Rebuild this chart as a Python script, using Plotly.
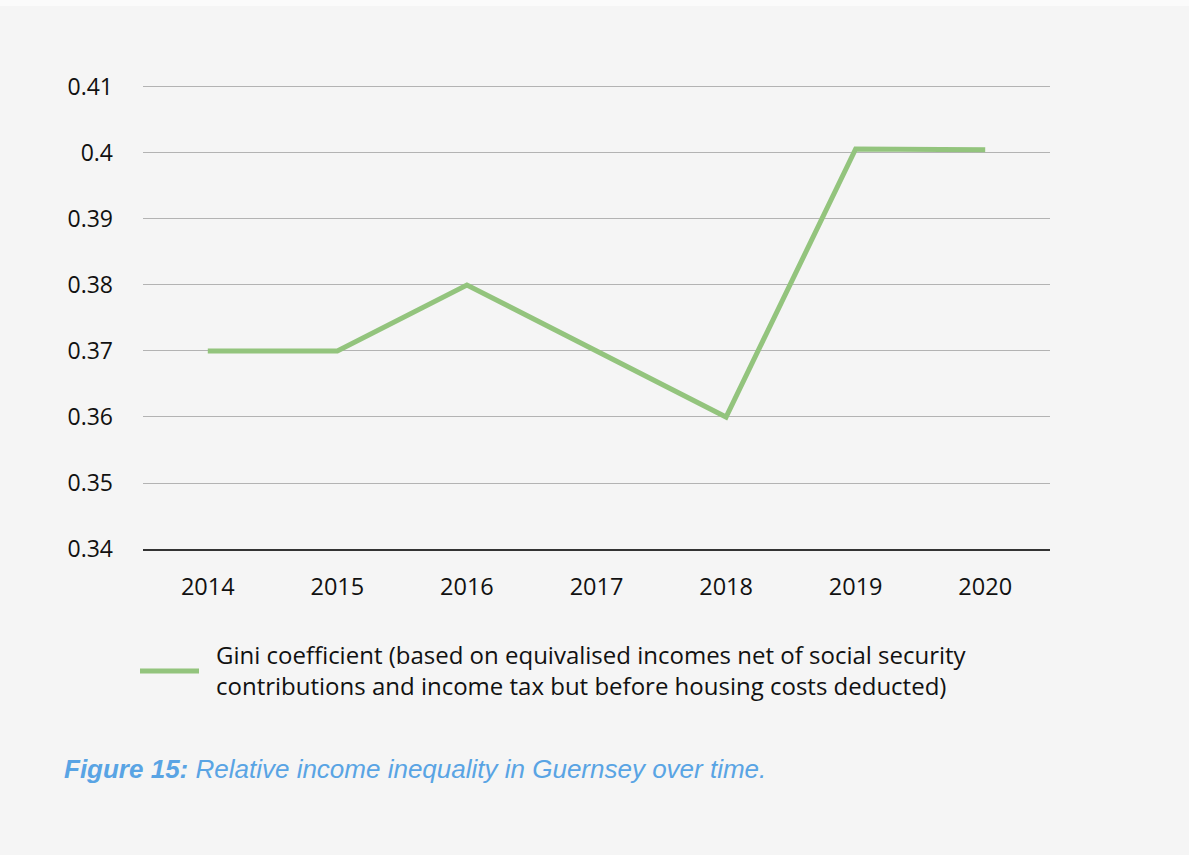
import plotly.graph_objects as go

years = ["2014", "2015", "2016", "2017", "2018", "2019", "2020"]
gini = [0.370, 0.370, 0.380, 0.370, 0.360, 0.4006, 0.4005]
y_ticks = [0.34, 0.35, 0.36, 0.37, 0.38, 0.39, 0.40, 0.41]
y_tick_text = ["0.34", "0.35", "0.36", "0.37", "0.38", "0.39", "0.4", "0.41"]
series_name = ("Gini coefficient (based on equivalised incomes net of social security<br>"
               "contributions and income tax but before housing costs deducted)")
caption_bold = "Figure 15:"
caption_rest = " Relative income inequality in Guernsey over time."

GREEN = "#93c47d"
W, H = 1189, 855
L, R, T, B = 143, 139, 85, 306

fig = go.Figure()
fig.add_trace(go.Scatter(x=years, y=gini, mode="lines",
                         line=dict(color=GREEN, width=5),
                         showlegend=False, hoverinfo="skip"))

fig.update_layout(
    width=W, height=H,
    margin=dict(l=L, r=R, t=T, b=B),
    paper_bgcolor="#f5f5f5",
    plot_bgcolor="rgba(0,0,0,0)",
    font=dict(family="Open Sans, sans-serif", size=23, color="#111111"),
    xaxis=dict(type="category", range=[-0.5, 6.5], showgrid=False,
               showline=True, linecolor="#333333", linewidth=1.5,
               ticks="", ticklabelstandoff=16, zeroline=False,
               tickfont=dict(size=23.5)),
    yaxis=dict(range=[0.34, 0.4103], tickvals=y_ticks, ticktext=y_tick_text,
               showgrid=True, gridcolor="#b3b3b3", gridwidth=1,
               zeroline=False, showline=False, ticks="",
               ticklabelstandoff=29, tickfont=dict(size=23)),
)

pw = W - L - R
ph = H - T - B
def px_x(x):
    return (x - L) / pw
def px_y(y):
    return (H - B - y) / ph

# top white strip like reference border
fig.add_shape(type="rect", xref="paper", yref="paper",
              x0=px_x(0), x1=px_x(W), y0=px_y(6), y1=px_y(0),
              fillcolor="#fbfbfb", line_width=0, layer="below")

# manual legend
fig.add_shape(type="line", xref="paper", yref="paper",
              x0=px_x(140), x1=px_x(199), y0=px_y(671), y1=px_y(671),
              line=dict(color=GREEN, width=5))
fig.add_annotation(xref="paper", yref="paper", x=px_x(214), y=px_y(670),
                   xanchor="left", yanchor="middle", align="left",
                   text=series_name, showarrow=False,
                   font=dict(family="Open Sans, sans-serif", size=24, color="#111111"))

fig.add_annotation(xref="paper", yref="paper", x=px_x(62), y=px_y(769),
                   xanchor="left", yanchor="middle", align="left",
                   text="<i><b>" + caption_bold + "</b>" + caption_rest + "</i>",
                   showarrow=False,
                   font=dict(family="Liberation Sans, Arial, sans-serif", size=26,
                             color="#59a4e4"))

fig.write_html("out.html")
